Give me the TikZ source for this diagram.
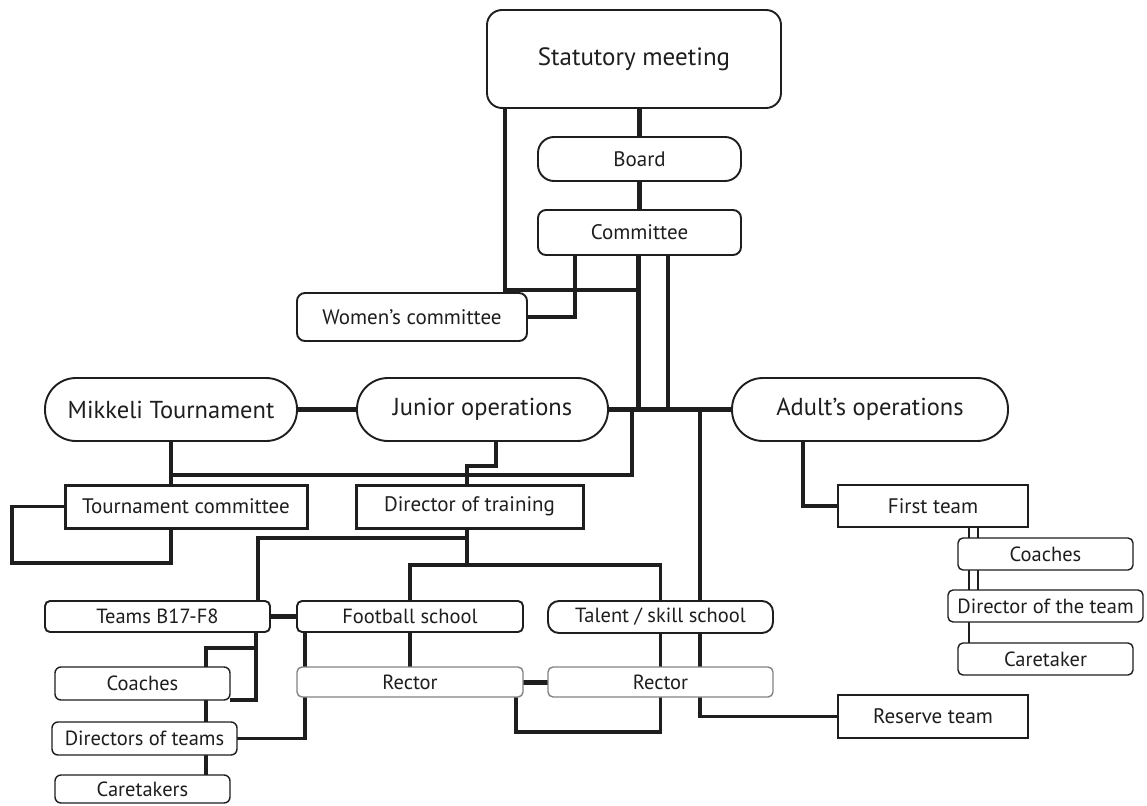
\documentclass[tikz,border=0pt]{standalone}
\usepackage{fontspec}
\setmainfont{PT Sans}
\usetikzlibrary{backgrounds}
\definecolor{ink}{HTML}{1E1E1E}
\tikzset{
  box/.style={draw=ink, line width=1.9pt, fill=white, inner sep=0pt, outer sep=0pt,
    text=ink, font=\fontsize{21}{25}\selectfont},
  smallfont/.style={font=\fontsize{20.5}{24}\selectfont},
  bigfont/.style={font=\fontsize{24.5}{29}\selectfont},
  conn/.style={draw=ink, line width=3.3pt},
  heavy/.style={draw=ink, line width=5pt},
  sz/.style 2 args={minimum width=#1pt, minimum height=#2pt},
}
\begin{document}
\begin{tikzpicture}[x=1pt,y=-1pt]
\useasboundingbox (0,0) rectangle (1147,805);
% nodes
\node[box, rounded corners=15pt, sz={294}{98}, font=\fontsize{25}{29}\selectfont] (stat) at (634,59) {Statutory meeting};
\node[box, rounded corners=16pt, sz={203}{44}] (board) at (639.5,159) {Board};
\node[box, rounded corners=8pt, sz={203}{45}] (comm) at (639.5,232.5) {Committee};
\node[box, rounded corners=8pt, sz={230}{48}] (women) at (412,317) {Women's committee};
\node[box, bigfont, rounded corners=31pt, sz={252}{63}] (mik) at (171,409.5) {Mikkeli Tournament};
\node[box, bigfont, rounded corners=31pt, sz={251}{63}] (jun) at (482.5,409.5) {Junior operations};
\node[box, bigfont, rounded corners=31pt, sz={276}{63}] (adu) at (870,409.5) {Adult's operations};
\node[box, line width=3pt, sz={242}{43}] (tcom) at (186,506.5) {Tournament committee};
\node[box, line width=3pt, sz={227}{43}] (dtr) at (469.5,506.5) {Director of training};
\node[box, line width=2pt, sz={190}{42}] (first) at (933,506) {First team};
\node[box, smallfont, rounded corners=5pt, sz={225}{31}] (teams) at (157.5,616.5) {Teams B17-F8};
\node[box, smallfont, rounded corners=5pt, sz={226}{31}] (fs) at (410,616.5) {Football school};
\node[box, smallfont, rounded corners=11pt, sz={225}{32}] (tal) at (660.5,617) {Talent / skill school};
\node[box, smallfont, draw=ink!55, line width=1.4pt, rounded corners=5pt, sz={226}{30}] (rec1) at (410,682) {Rector};
\node[box, smallfont, draw=ink!55, line width=1.4pt, rounded corners=5pt, sz={225}{30}] (rec2) at (660.5,682) {Rector};
\node[box, smallfont, line width=1.4pt, rounded corners=6pt, sz={175}{33}] (coach1) at (142.5,683.5) {Coaches};
\node[box, smallfont, line width=1.4pt, rounded corners=6pt, sz={185}{33}] (dirs) at (144.5,738.5) {Directors of teams};
\node[box, smallfont, line width=1.4pt, rounded corners=6pt, sz={175}{28}] (care1) at (142.5,789) {Caretakers};
\node[box, smallfont, line width=1.4pt, rounded corners=5pt, sz={175}{32}] (coach2) at (1045.5,554) {Coaches};
\node[box, smallfont, line width=1.4pt, rounded corners=5pt, sz={195}{32}] (dir2) at (1045.5,606) {Director of the team};
\node[box, smallfont, line width=1.4pt, rounded corners=5pt, sz={175}{32}] (care2) at (1045.5,659) {Caretaker};
\node[box, line width=2pt, sz={190}{43}] (res) at (933,716.5) {Reserve team};
% helper coordinates
\coordinate (J) at (638,408);
\coordinate (J0) at (638,290);
\coordinate (x505) at (505,0);
\coordinate (x575) at (575,0);
\coordinate (x668) at (668,0);
\coordinate (J2) at (632,475);
\coordinate (K1) at (496,466);
\coordinate (x467) at (467,0);
\coordinate (L1) at (12,563);
\coordinate (D1) at (258,538);
\coordinate (H) at (467,565);
\coordinate (x305) at (305,0);
\coordinate (x256) at (256,0);
\coordinate (T1) at (256,648);
\coordinate (x206) at (206,0);
\coordinate (Y732) at (0,732);
\coordinate (x516) at (516,0);
\coordinate (x700) at (700,0);
\coordinate (x803) at (803,0);
\coordinate (x969) at (969,0);
\coordinate (x978) at (978,0);
\begin{pgfonlayer}{background}
% heavy connectors
\draw[heavy] (board.north) -- (board.north |- stat.south);
\draw[heavy] (board.south) -- (comm.north);
\draw[heavy] (comm.south -| J) -- (J);
\draw[heavy] (mik.east) -- (jun.west);
\draw[heavy] (jun.east) -- (adu.west);
\draw[heavy] (teams.east) -- (fs.west);
\draw[heavy] (rec1.east) -- (rec2.west);
% normal connectors
\draw[conn] (stat.south -| x505) |- (J0);
\draw[conn] (comm.south -| x575) |- (women.east);
\draw[conn] (comm.south -| x668) -- (J -| x668);
\draw[conn] (J -| J2) -- (J2) -- (J2 -| mik.south);
\draw[conn] (mik.south) -- (mik.south |- tcom.north);
\draw[conn] (jun.south -| K1) -- (K1) -| (dtr.north -| x467);
\draw[conn] (tcom.west) -| (L1) -| (tcom.south -| mik.south);
\draw[conn] (dtr.south -| x467) -- (H);
\draw[conn] (D1 -| x467) -- (D1) -- (teams.north -| D1);
\draw[conn] (fs.north) |- (H) -| (tal.north);
\draw[conn] (fs.south) -- (rec1.north);
\draw[conn] (fs.south -| x305) |- (dirs.east);
\draw[conn] (teams.south -| x256) |- (coach1.south east);
\draw[conn] (T1) -| (care1.north -| x206);
\draw[conn] (tal.south) -- (tal.south |- Y732) -| (rec1.south -| x516);
\draw[conn] (J -| x700) |- (res.west);
\draw[conn] (adu.south -| x803) |- (first.west);
\draw[conn, line width=2.4pt] (first.south -| x969) -- (coach2.north -| x969);
\draw[conn, line width=2.4pt] (first.south -| x978) -- (coach2.north -| x978);
\draw[conn, line width=2.4pt] (coach2.south -| x969) -- (dir2.north -| x969);
\draw[conn, line width=2.4pt] (coach2.south -| x978) -- (dir2.north -| x978);
\draw[conn, line width=2.4pt] (dir2.south -| x969) -- (care2.north -| x969);
\end{pgfonlayer}
\end{tikzpicture}
\end{document}
